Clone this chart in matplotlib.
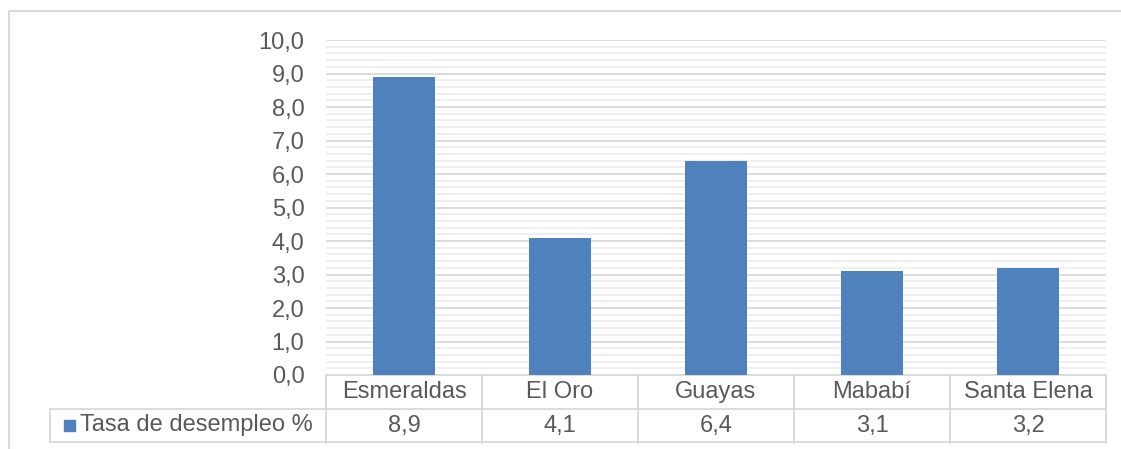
import matplotlib.pyplot as plt
from matplotlib.ticker import MultipleLocator, FuncFormatter
from matplotlib.transforms import blended_transform_factory
from matplotlib.patches import Rectangle

provincias = ["Esmeraldas", "El Oro", "Guayas", "Mababí", "Santa Elena"]
tasa = [8.9, 4.1, 6.4, 3.1, 3.2]
serie = "Tasa de desempleo %"

azul = "#4F81BD"
gris_txt = "#595959"
gris_linea = "#d9d9d9"
fs = 17

plt.rcParams['font.family'] = ['Liberation Sans', 'DejaVu Sans']

W, H = 1121, 449
fig = plt.figure(figsize=(W / 100, H / 100), dpi=100)

# plot area in pixels
x0, x1, y_top, y_base = 326, 1106, 40, 375
ax = fig.add_axes([x0 / W, 1 - y_base / H, (x1 - x0) / W, (y_base - y_top) / H])

xs = range(len(provincias))
ax.bar(xs, tasa, width=0.4, color=azul, zorder=3)
ax.set_xlim(-0.5, len(provincias) - 0.5)
ax.set_ylim(0, 10)

ax.yaxis.set_major_locator(MultipleLocator(1))
ax.yaxis.set_minor_locator(MultipleLocator(0.2))
ax.yaxis.set_major_formatter(FuncFormatter(lambda v, p: f"{v:.1f}".replace(".", ",")))
ax.grid(axis='y', which='major', color=gris_linea, lw=1.3, zorder=0)
ax.grid(axis='y', which='minor', color="#eeeeee", lw=1.3, zorder=0)
ax.tick_params(axis='y', which='both', length=0, labelsize=fs, labelcolor=gris_txt, pad=15.5)
ax.tick_params(axis='x', length=0, labelbottom=False)
for s in ax.spines.values():
    s.set_visible(False)

# data table below the axis
row_h = 34 / (y_base - y_top)
tr = blended_transform_factory(ax.transData, ax.transAxes)
n = len(provincias)
lw = 1.3
for i, (p, v) in enumerate(zip(provincias, tasa)):
    ax.text(i, -row_h / 2, p, transform=tr, ha='center', va='center',
            fontsize=fs, color=gris_txt, clip_on=False)
    ax.text(i, -row_h * 1.5, f"{v:.1f}".replace(".", ","), transform=tr, ha='center',
            va='center', fontsize=fs, color=gris_txt, clip_on=False)
for k in range(n + 1):
    ax.plot([k - 0.5, k - 0.5], [0, -2 * row_h], transform=tr, color=gris_linea,
            lw=lw, clip_on=False, zorder=4)
for yy in (0, -row_h):
    ax.plot([-0.5, n - 0.5], [yy, yy], transform=tr, color=gris_linea, lw=lw, clip_on=False)

# legend cell, figure pixel coords
def fx(px):
    return px / W

def fy(py):
    return 1 - py / H

lx0 = 50
fig.add_artist(plt.Line2D([fx(lx0), fx(x0)], [fy(409), fy(409)], color=gris_linea, lw=lw))
fig.add_artist(plt.Line2D([fx(lx0), fx(x1)], [fy(442), fy(442)], color=gris_linea, lw=lw))
fig.add_artist(plt.Line2D([fx(lx0), fx(lx0)], [fy(409), fy(442)], color=gris_linea, lw=lw))
fig.add_artist(Rectangle((fx(64), fy(431)), 11 / W, 11 / H, color=azul, transform=fig.transFigure))
fig.text(fx(80), fy(425.5), serie, ha='left', va='center', fontsize=fs, color=gris_txt)

# outer chart border
fig.add_artist(plt.Line2D([fx(9), fx(9), fx(1125)], [fy(460), fy(11), fy(11)],
                          color=gris_linea, lw=1.5))

fig.savefig("out.png", dpi=100)
